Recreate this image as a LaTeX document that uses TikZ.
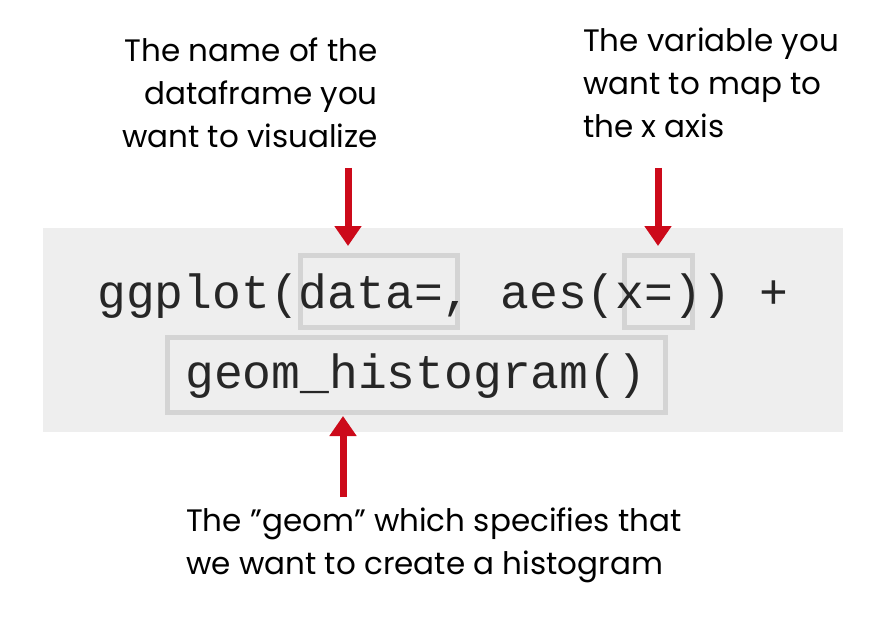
\documentclass[tikz,border=0pt]{standalone}
\usepackage{fontspec}
\setmainfont{Poppins}
\setmonofont{Liberation Mono}
\usetikzlibrary{arrows.meta}
\definecolor{myred}{HTML}{CC0A1A}
\definecolor{boxgray}{HTML}{D4D4D4}
\definecolor{bg}{HTML}{EEEEEE}
\begin{document}
\begin{tikzpicture}[x=1pt,y=-1pt,
  lab/.style={font=\fontsize{31}{43}\selectfont, inner sep=0pt},
  code/.style={font=\ttfamily\fontsize{48}{50}\selectfont, inner sep=0pt, text=black!85},
  hbox/.style={draw=boxgray, line width=4.5pt, inner sep=0pt},
  redarrow/.style={draw=myred, line width=7pt, -{Triangle[length=20pt,width=26pt]}}]
\useasboundingbox (0,0) rectangle (890,628);
\node[fill=bg, minimum width=800pt, minimum height=204pt, inner sep=0pt, anchor=north west] (bgbox) at (43,228) {};
\node[hbox, minimum width=157pt, minimum height=72pt, anchor=north west] (b1) at (298,253) {};
\node[hbox, minimum width=68pt, minimum height=72pt, anchor=north west] (b2) at (622,253) {};
\node[hbox, minimum width=498pt, minimum height=75pt, anchor=north west] (b3) at (165,335) {};
\node[code, anchor=base west] (l1) at (97,308) {ggplot(data=, aes(x=)) +};
\node[code, anchor=base west] (l2) at (185,388) {geom\_histogram()};
\node[lab, anchor=north east, align=right] (t1) at (378,38) {The name of the\\dataframe you\\want to visualize};
\node[lab, anchor=north west, align=left] (t2) at (583,28) {The variable you\\want to map to\\the x axis};
\node[lab, anchor=north west, align=left] (t3) at (186,508) {The "geom" which specifies that\\we want to create a histogram};
\coordinate (a1) at (348,168);
\coordinate (a2) at (658,168);
\coordinate (a3) at (343,497);
\draw[redarrow] (a1) -- (348,246);
\draw[redarrow] (a2) -- (658,246);
\draw[redarrow] (a3) -- (343,416);
\end{tikzpicture}
\end{document}
